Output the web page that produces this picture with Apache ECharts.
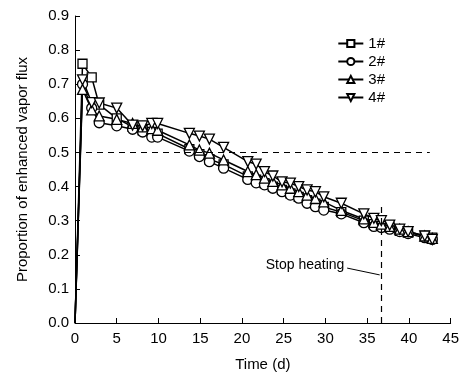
<!DOCTYPE html>
<html><head><meta charset="utf-8">
<script src="https://cdn.jsdelivr.net/npm/echarts@6/dist/echarts.min.js"></script>
<style>html,body{margin:0;padding:0;background:#fff}#c{width:462px;height:379px}</style>
</head><body><div id="c"></div>
<script>
var days = [0, 0.9, 2, 2.9, 5, 6.9, 8.1, 9.2, 9.9, 13.7, 14.9, 16.1, 17.8, 20.7, 21.7, 22.7, 23.7, 24.8, 25.8, 26.8, 27.8, 28.8, 29.8, 31.9, 34.6, 35.8, 36.7, 37.7, 38.9, 39.9, 41.9, 42.8];
var s1 = [0, 0.76, 0.72, 0.64, 0.60, 0.575, 0.565, 0.56, 0.555, 0.51, 0.495, 0.48, 0.465, 0.43, 0.42, 0.41, 0.40, 0.39, 0.38, 0.37, 0.36, 0.35, 0.34, 0.325, 0.30, 0.29, 0.285, 0.28, 0.27, 0.265, 0.255, 0.25];
var s2 = [0, 0.70, 0.63, 0.587, 0.578, 0.568, 0.56, 0.545, 0.545, 0.504, 0.488, 0.473, 0.454, 0.421, 0.411, 0.405, 0.395, 0.385, 0.375, 0.366, 0.351, 0.341, 0.331, 0.32, 0.294, 0.283, 0.28, 0.275, 0.268, 0.262, 0.25, 0.245];
var s3 = [0, 0.685, 0.625, 0.607, 0.597, 0.585, 0.575, 0.57, 0.565, 0.522, 0.507, 0.498, 0.478, 0.444, 0.435, 0.425, 0.415, 0.405, 0.395, 0.385, 0.375, 0.365, 0.355, 0.33, 0.305, 0.295, 0.29, 0.283, 0.275, 0.268, 0.255, 0.248];
var s4 = [0, 0.713, 0.646, 0.645, 0.63, 0.58, 0.578, 0.585, 0.585, 0.556, 0.548, 0.539, 0.515, 0.473, 0.466, 0.444, 0.431, 0.414, 0.41, 0.40, 0.39, 0.385, 0.37, 0.351, 0.32, 0.307, 0.30, 0.287, 0.275, 0.268, 0.255, 0.245];
var names = ['1#', '2#', '3#', '4#'];
var xTicks = [0, 5, 10, 15, 20, 25, 30, 35, 40, 45];
var yTicks = ['0.0','0.1','0.2','0.3','0.4','0.5','0.6','0.7','0.8','0.9'];
var refLevel = 0.5, stopDay = 36.7;

var font = 'Liberation Sans, Arial, sans-serif';
function pairs(v){
  return days.map(function(d,i){
    var p = {value:[d, v[i]]};
    if (i === 0) { p.symbol = 'none'; }
    return p;
  });
}
var symbols = ['rect','circle','triangle','triangle'];
var rot = [0,0,0,180];
var sizes = [9,10,10,10];
var all = [s1,s2,s3,s4];
var series = all.map(function(v,i){
  return {
    name: names[i], type:'line', data: pairs(v),
    symbol: symbols[i], symbolSize: sizes[i], symbolRotate: rot[i],
    lineStyle:{color:'#000', width:1.5},
    itemStyle:{color:'#fff', borderColor:'#000', borderWidth:1.3},
    z: 3, clip:false
  };
});
series.push({
  type:'line', data:[], silent:true, z:2,
  markLine:{
    silent:true, symbol:['none','none'], animation:false,
    label:{show:false},
    lineStyle:{color:'#000', type:[6,5], width:1.2},
    data:[
      [{coord:[0, refLevel]}, {coord:[42.5, refLevel]}],
      [{coord:[stopDay, 0]}, {coord:[stopDay, 0.352]}]
    ]
  }
});
series.push({
  type:'line', data:[], silent:true, z:4,
  markLine:{
    silent:true, symbol:['none','arrow'], symbolSize:[0,7], animation:false,
    label:{show:false},
    lineStyle:{color:'#000', type:'solid', width:1},
    data:[[{coord:[32.6, 0.161]}, {coord:[36.5, 0.141]}]]
  },
  markPoint:{
    silent:true, symbol:'circle', symbolSize:0, animation:false,
    label:{show:true, position:'left', distance:2, formatter:'Stop heating', color:'#000', fontSize:14, fontFamily:font},
    data:[{coord:[32.5, 0.17]}]
  }
});

var chart = echarts.init(document.getElementById('c'));
chart.setOption({
  animation:false,
  backgroundColor:'#fff',
  grid:{left:75, right:10, top:16, bottom:56},
  legend:{
    data:names, orient:'vertical', right:72, top:31, itemWidth:25, itemHeight:9, itemGap:3,
    textStyle:{color:'#000', fontSize:15, fontFamily:font}
  },
  xAxis:{
    type:'value', min:0, max:45, interval:5,
    name:'Time (d)', nameLocation:'middle', nameGap:34,
    nameTextStyle:{color:'#000', fontSize:15, fontFamily:font},
    axisLine:{lineStyle:{color:'#000', width:1}},
    axisTick:{inside:true, length:5, lineStyle:{color:'#000'}},
    axisLabel:{color:'#000', fontSize:15, fontFamily:font, margin:8,
      formatter:function(v){ return xTicks.indexOf(v) >= 0 ? String(v) : ''; }},
    splitLine:{show:false}
  },
  yAxis:{
    type:'value', min:0, max:0.9, interval:0.1,
    name:'Proportion of enhanced vapor flux', nameLocation:'middle', nameGap:45,
    nameTextStyle:{color:'#000', fontSize:15, fontFamily:font},
    axisLine:{show:true, lineStyle:{color:'#000', width:1}},
    axisTick:{show:true, inside:true, length:5, lineStyle:{color:'#000'}},
    axisLabel:{color:'#000', fontSize:15, fontFamily:font, margin:6,
      formatter:function(v){ return yTicks[Math.round(v*10)]; }},
    splitLine:{show:false}
  },
  series: series
});
</script></body></html>
